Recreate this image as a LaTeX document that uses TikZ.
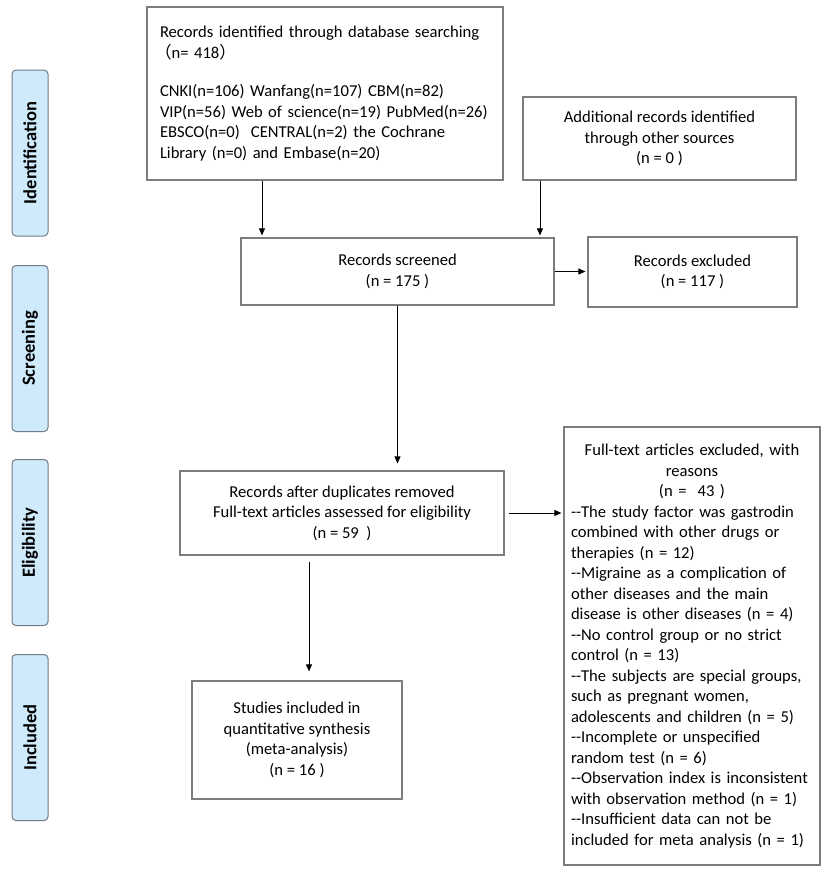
\documentclass[tikz,border=0pt]{standalone}
\usepackage{fontspec}
\setmainfont{Carlito}
\newfontfamily\cjk{Noto Sans CJK SC}
\usetikzlibrary{arrows.meta}
\definecolor{boxgray}{RGB}{125,125,125}
\definecolor{phasefill}{RGB}{206,234,251}
\definecolor{phaseline}{RGB}{112,124,136}
\newcommand\dhy{-\kern0pt-}

\begin{document}
\begin{tikzpicture}[x=1pt,y=-1pt,>={Triangle[length=7pt,width=6pt]},
  box/.style={draw=boxgray,line width=1.2pt,inner sep=0pt,align=center,font=\fontsize{16.6}{20.5}\selectfont},
  phase/.style={draw=phaseline,fill=phasefill,line width=1pt,rounded corners=4pt,rotate=90,minimum width=166pt,minimum height=36pt,inner sep=0pt,font=\fontsize{18.5}{20}\selectfont\bfseries},
  flow/.style={->,black,line width=0.8pt,shorten >=2pt}]
  \useasboundingbox[fill=white] (0,0) rectangle (829,876);

  % phases on the left
  \node[phase] (ident) at (30,153) {Identification};
  \node[phase] (screen) at (30,348.5) {Screening};
  \node[phase] (elig) at (30,542.5) {Eligibility};
  \node[phase] (incl) at (30,737.5) {Included};

  % flow boxes
  \node[box,text width=340pt,inner xsep=8pt,minimum height=173pt,align=left] (search) at (325,93.5)
    {\hspace*{5pt}Records identified through database searching\\
     {\cjk （}n= 418{\cjk ）}\\[18pt]
     \hspace*{5pt}CNKI(n=106) Wanfang(n=107) CBM(n=82)\\
     \hspace*{5pt}VIP(n=56) Web of science(n=19) PubMed(n=26)\\
     \hspace*{5pt}EBSCO(n=0)\ \ CENTRAL(n=2) the Cochrane\\
     \hspace*{5pt}Library (n=0) and Embase(n=20)};
  \node[box,minimum width=273pt,minimum height=83pt] (other) at (659.5,138.5)
    {Additional records identified\\through other sources\\(n = 0 )};
  \node[box,minimum width=313pt,minimum height=67pt] (screened) at (397.5,271.5)
    {Records screened\\(n = 175 )};
  \node[box,minimum width=209pt,minimum height=70pt] (excl) at (692.5,272)
    {Records excluded\\(n = 117 )};
  \node[box,minimum width=324pt,minimum height=84pt] (fulltext) at (342,513)
    {Records after duplicates removed\\Full-text articles assessed for eligibility\\(n = 59\ \ )};
  \node[box,minimum width=210pt,minimum height=118pt] (studies) at (297,740)
    {Studies included in\\quantitative synthesis\\(meta-analysis)\\(n = 16 )};
  \node[box,text width=242pt,inner xsep=7pt,minimum height=438pt,align=left] (reasons) at (692,646)
    {\makebox[242pt][c]{Full-text articles excluded, with}\\
     \makebox[242pt][c]{reasons}\\
     \makebox[242pt][c]{(n =\ \ 43 )}\\
     \dhy The study factor was gastrodin\\
     combined with other drugs or\\
     therapies (n = 12)\\
     \dhy Migraine as a complication of\\
     other diseases and the main\\
     disease is other diseases (n = 4)\\
     \dhy No control group or no strict\\
     control (n = 13)\\
     \dhy The subjects are special groups,\\
     such as pregnant women,\\
     adolescents and children (n = 5)\\
     \dhy Incomplete or unspecified\\
     random test (n = 6)\\
     \dhy Observation index is inconsistent\\
     with observation method (n = 1)\\
     \dhy Insufficient data can not be\\
     included for meta analysis (n = 1)};

  % connectors
  \draw[flow] ([xshift=-63pt]search.south) -- ([xshift=-63pt]search.south |- screened.north);
  \draw[flow] ([xshift=-119.5pt]other.south) -- ([xshift=-119.5pt]other.south |- screened.north);
  \draw[flow] (screened.east) -- (screened.east -| excl.west);
  \draw[flow,shorten >=7pt] (screened.south) -- (screened.south |- fulltext.north);
  \draw[flow,shorten <=4pt] (fulltext.east) -- (fulltext.east -| reasons.west);
  \draw[flow,shorten <=6pt,shorten >=9pt] ([xshift=-33pt]fulltext.south) -- ([xshift=-33pt]fulltext.south |- studies.north);
\end{tikzpicture}
\end{document}
